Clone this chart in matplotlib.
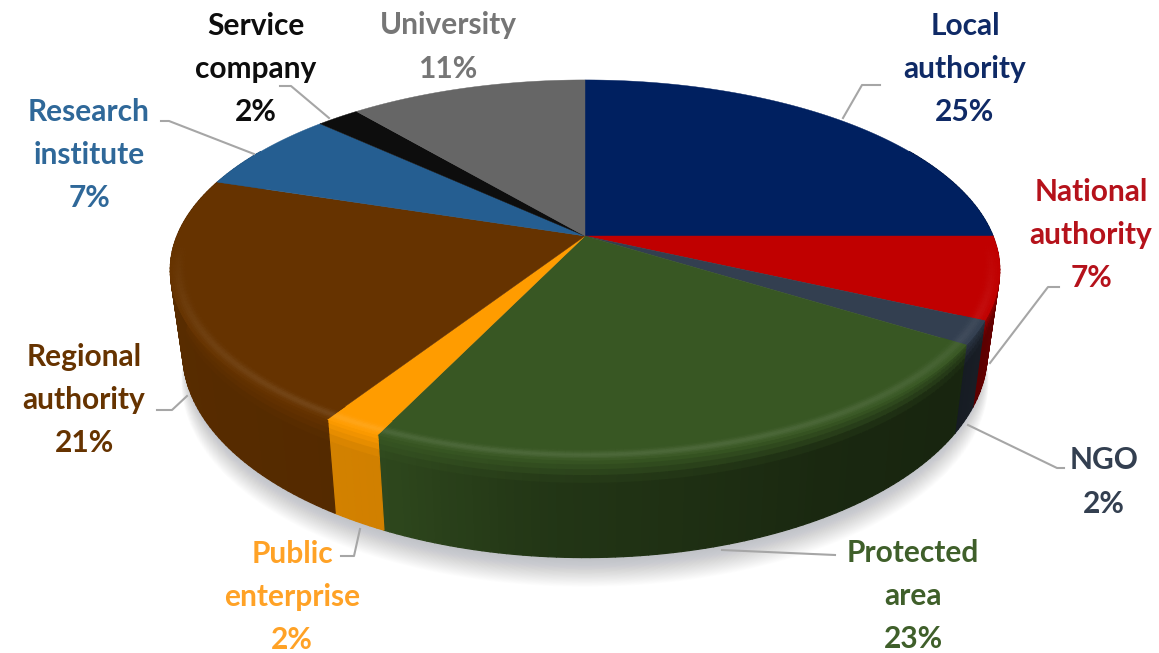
import numpy as np
from matplotlib.collections import PolyCollection
from matplotlib.colors import to_rgb
from matplotlib.figure import Figure

categories = ["Local\nauthority", "National\nauthority", "NGO", "Protected\narea",
              "Public\nenterprise", "Regional\nauthority", "Research\ninstitute",
              "Service\ncompany", "University"]
shares = [25, 7, 2, 23, 2, 21, 7, 2, 11]
slice_colors = ["#002060", "#c00000", "#333f50", "#385723", "#ff9c00",
                "#663300", "#255e91", "#0d0d0d", "#666666"]
text_colors = ["#0f2a66", "#b5121b", "#333f50", "#3f5f2a", "#ffa226",
               "#663300", "#2f6899", "#0d0d0d", "#767676"]
label_xy = [(965, 69), (1091, 235), (1104, 482), (913, 596), (292, 597),
            (84, 400), (89, 155), (256, 69), (448, 47)]
leaders = [
    [(843, 118), (862, 85), (880, 85)],
    [(990, 363), (1048, 287), (1059, 287)],
    [(968, 425), (1057, 468), (1064, 468)],
    [(722, 550), (835, 555)],
    [(360, 529), (354, 556), (341, 556)],
    [(187, 396), (172, 410), (157, 410)],
    [(254, 154), (169, 121), (161, 121)],
    [(329, 118), (291, 86), (280, 86)],
]

# pie plane drawn with a simple perspective, back edge compressed
CX, CY = 585, 236
RX, RY, K = 408, 184, 0.179
DEPTH = 80
SHRINK = 0.03


def project(theta, r=1.0, drop=0.0):
    """theta in degrees clockwise from 12 o'clock, r in pie radii."""
    t = np.radians(theta)
    u, v = r * np.sin(t), r * np.cos(t)
    w = 1 + K * v
    x = CX + RX * u / w * (1 - SHRINK * drop / DEPTH)
    y = CY - RY * v / w + drop / w
    return x, y


def side_shade(theta):
    return np.interp(theta, [60, 90, 125, 150, 185, 205, 250, 300],
                     [0.62, 0.62, 0.42, 0.46, 0.62, 0.82, 0.86, 0.86])


def blend(color, other, amount):
    c, o = np.array(to_rgb(color)), np.array(to_rgb(other))
    return tuple(c + (o - c) * amount)


fig = Figure(figsize=(11.59, 6.53), dpi=100)
ax = fig.add_axes([0, 0, 1, 1])
ax.set_xlim(0, 1159)
ax.set_ylim(653, 0)
ax.axis("off")

# soft shadow under the disc
around = np.linspace(0, 360, 240)
for grow in np.linspace(44, 1, 44):
    x, y = project(around, 1.0, DEPTH)
    x = CX + (x - CX) * (0.985 + grow / 2400)
    y = y + grow * 0.8 - 6
    ax.fill(x, y, color="#8a8f98", alpha=0.014, lw=0, zorder=1)

edges = np.concatenate([[0], np.cumsum(shares)]) / sum(shares) * 360

# side wall, split into small facets so the shading can change along the rim
polys, facecolors = [], []
levels = [0, 0.05, 0.1, 0.16, 0.24, 1.0]
for i, color in enumerate(slice_colors):
    start, end = edges[i], edges[i + 1]
    if end < 60 or start > 300:
        continue
    steps = np.arange(max(start, 60), min(end, 300), 1.0)
    steps = np.append(steps, min(end, 300))
    for a, b in zip(steps[:-1], steps[1:]):
        shaded = blend(color, "black", 1 - side_shade((a + b) / 2))
        front = np.clip(-np.cos(np.radians((a + b) / 2)) + 0.25, 0, 1)
        for lo, hi in zip(levels[:-1], levels[1:]):
            xa, ya = project(a, 1.0, DEPTH * lo)
            xb, yb = project(b, 1.0, DEPTH * lo)
            xc, yc = project(b, 1.0, DEPTH * hi)
            xd, yd = project(a, 1.0, DEPTH * hi)
            polys.append([(xa, ya), (xb, yb), (xc, yc), (xd, yd)])
            mix = np.clip(1 - (lo + hi) / 2 / 0.24, 0, 1)
            facecolors.append(blend(shaded, color, mix * front))
ax.add_collection(PolyCollection(polys, facecolors=facecolors, edgecolors=facecolors,
                                 linewidths=0.9, zorder=2))

# top surface
for i, color in enumerate(slice_colors):
    arc = np.linspace(edges[i], edges[i + 1], 120)
    x, y = project(arc)
    ax.fill(np.r_[CX, x], np.r_[CY, y], color=color, lw=0.3, zorder=3)

# lighter bevel on the front of the rim
ring_polys, ring_colors = [], []
ring = np.linspace(0.94, 1.0, 13)
for i, color in enumerate(slice_colors):
    start, end = edges[i], edges[i + 1]
    steps = np.append(np.arange(start, end, 1.0), end)
    for a, b in zip(steps[:-1], steps[1:]):
        mid = np.radians((a + b) / 2)
        front = np.clip(-np.cos(mid) - 0.05, 0, 1) ** 0.7
        if front <= 0:
            continue
        for r0, r1 in zip(ring[:-1], ring[1:]):
            g = 0.11 * np.exp(-(((r0 + r1) / 2 - 0.982) / 0.012) ** 2)
            xa, ya = project(a, r0)
            xb, yb = project(b, r0)
            xc, yc = project(b, r1)
            xd, yd = project(a, r1)
            ring_polys.append([(xa, ya), (xb, yb), (xc, yc), (xd, yd)])
            ring_colors.append(blend(color, "white", g * front))
ax.add_collection(PolyCollection(ring_polys, facecolors=ring_colors, edgecolors=ring_colors,
                                 linewidths=0.6, zorder=4))

for line in leaders:
    ax.plot(*zip(*line), color="#a6a6a6", lw=1.5, solid_joinstyle="round", zorder=5)

for name, share, color, (x, y) in zip(categories, shares, text_colors, label_xy):
    ax.text(x, y, f"{name}\n{share}%", color=color, ha="center", va="center",
            family="Lato", weight="bold", fontsize=21.5, linespacing=1.67, zorder=6)

fig.savefig("out.png", dpi=100)
